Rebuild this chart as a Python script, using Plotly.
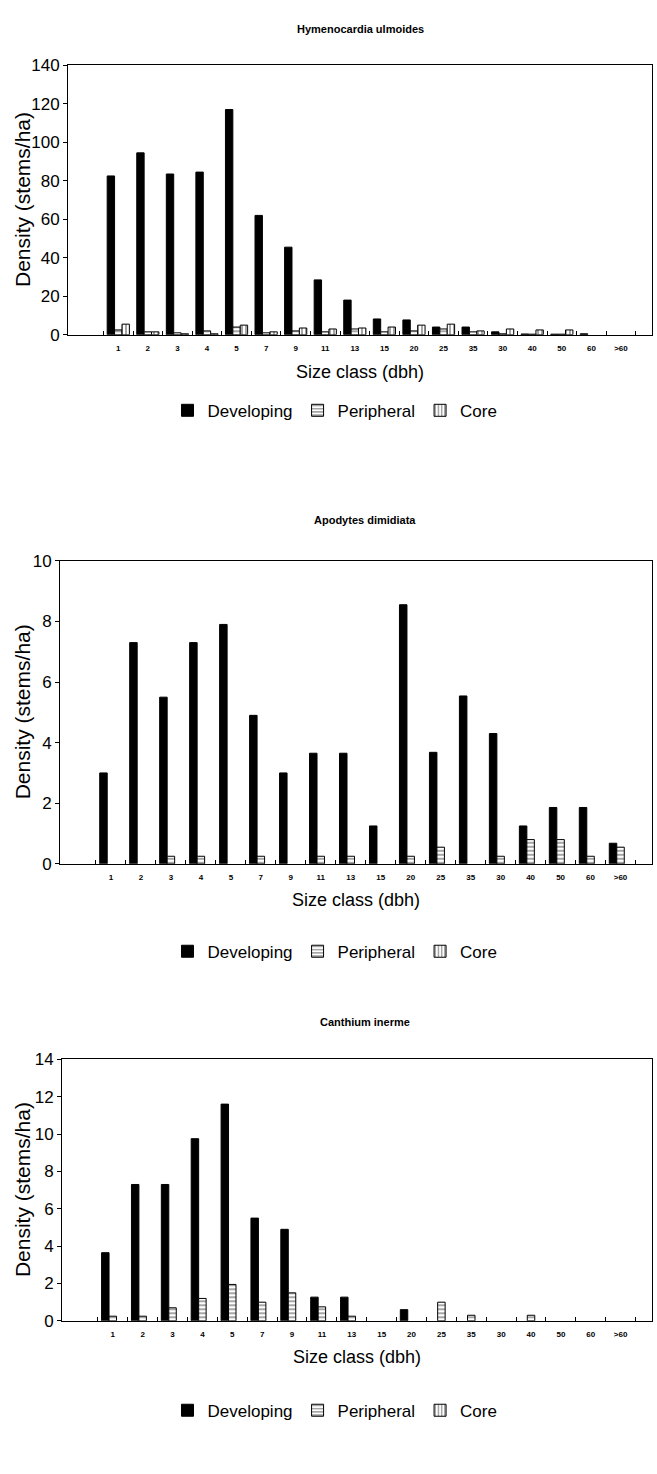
import plotly.graph_objects as go

categories = ["1", "2", "3", "4", "5", "7", "9", "11", "13", "15", "20", "25", "35", "30", "40", "50", "60", ">60"]

# Hymenocardia ulmoides
hym_developing = [82.5, 94.5, 83.5, 84.5, 117, 62, 45.5, 28.5, 18, 8.2, 7.7, 4, 4, 1.5, 0.4, 0.3, 0.5, 0]
hym_peripheral = [2.5, 1.5, 1, 2, 4, 1, 2, 1.5, 3, 1.5, 2, 3, 1.5, 0.5, 0.3, 0.3, 0, 0]
hym_core = [5.5, 1.5, 0.5, 0.5, 5, 1.5, 3.5, 3, 3.5, 4, 5, 5.5, 2, 3, 2.5, 2.5, 0, 0]

# Apodytes dimidiata
apo_developing = [3.0, 7.3, 5.5, 7.3, 7.9, 4.9, 3.0, 3.65, 3.65, 1.25, 8.55, 3.68, 5.54, 4.3, 1.25, 1.86, 1.86, 0.68]
apo_peripheral = [0, 0, 0.25, 0.25, 0, 0.25, 0, 0.25, 0.25, 0, 0.25, 0.55, 0, 0.25, 0.8, 0.8, 0.25, 0.55]
apo_core = [0] * 18

# Canthium inerme
can_developing = [3.65, 7.3, 7.3, 9.75, 11.6, 5.5, 4.9, 1.27, 1.27, 0, 0.6, 0, 0, 0, 0, 0, 0, 0]
can_peripheral = [0.25, 0.25, 0.7, 1.2, 1.95, 1.0, 1.5, 0.75, 0.25, 0, 0, 1.0, 0.3, 0, 0.3, 0, 0, 0]
can_core = [0] * 18

titles = ["Hymenocardia ulmoides", "Apodytes dimidiata", "Canthium inerme"]
y_max = [140, 10, 14]
y_dtick = [20, 2, 2]

H = 1474.0
W = 657.0
panels = [
    dict(top=57, bottom=330, left=68, title_y=20, title_x=360, xt_y=368, leg_y=407,
         dev=hym_developing, per=hym_peripheral, core=hym_core),
    dict(top=559, bottom=866, left=60, title_y=518, title_x=365, xt_y=903, leg_y=955,
         dev=apo_developing, per=apo_peripheral, core=apo_core),
    dict(top=1064, bottom=1329, left=62, title_y=1026, title_x=365, xt_y=1366, leg_y=1420,
         dev=can_developing, per=can_peripheral, core=can_core),
]

FONT = "Liberation Sans, Arial, sans-serif"


def nz(vals):
    # zero-height bars are not drawn in the original
    return [v if v > 0 else None for v in vals]


fig = go.Figure()
annotations = []
layout = {}

for i, p in enumerate(panels):
    n = "" if i == 0 else str(i + 1)
    xa, ya = "x" + n, "y" + n
    leg = "legend" + n
    fig.add_trace(go.Bar(y=nz(p["dev"]), name="Developing",
                         marker=dict(color="black", line=dict(color="black", width=1)),
                         x=categories, xaxis=xa, yaxis=ya, legend=leg))
    fig.add_trace(go.Bar(y=nz(p["per"]), name="Peripheral",
                         marker=dict(color="white", line=dict(color="black", width=1),
                                     pattern=dict(shape="-", fgcolor="black", bgcolor="white",
                                                  size=4, solidity=0.35)),
                         x=categories, xaxis=xa, yaxis=ya, legend=leg))
    fig.add_trace(go.Bar(y=nz(p["core"]), name="Core",
                         marker=dict(color="white", line=dict(color="black", width=1),
                                     pattern=dict(shape="|", fgcolor="black", bgcolor="white",
                                                  size=4, solidity=0.35)),
                         x=categories, xaxis=xa, yaxis=ya, legend=leg))

    layout["xaxis" + n] = dict(
        domain=[p["left"] / W, 652 / W], anchor=ya, type="category",
        range=[-1.7, 18.05], showline=True, mirror=True, linecolor="black", linewidth=1,
        ticks="inside", ticklen=4, tickcolor="black", tickson="boundaries",
        tickfont=dict(family=FONT, size=8, color="black", weight="bold"),
        ticklabelstandoff=6, showgrid=False, zeroline=False, fixedrange=True,
    )
    layout["yaxis" + n] = dict(
        domain=[1 - p["bottom"] / H, 1 - p["top"] / H], anchor=xa,
        range=[0, y_max[i]], dtick=y_dtick[i], showline=True, mirror=True,
        linecolor="black", linewidth=1, ticks="outside", ticklen=4, tickcolor="black",
        tickfont=dict(family=FONT, size=17, color="black"), showgrid=False, zeroline=False,
    )
    layout[leg] = dict(
        x=335 / W, y=1 - p["leg_y"] / H, xanchor="center", yanchor="middle",
        orientation="h", font=dict(family=FONT, size=17, color="black"),
        itemwidth=30, bgcolor="rgba(0,0,0,0)", traceorder="normal",
    )
    annotations.append(dict(text="<b>" + titles[i] + "</b>", x=p["title_x"] / W,
                            y=1 - p["title_y"] / H, xref="paper", yref="paper",
                            xanchor="center", yanchor="middle",
                            showarrow=False, font=dict(family=FONT, size=11, color="black")))
    annotations.append(dict(text="Size class (dbh)", x=(p["left"] + 652) / 2 / W,
                            y=1 - p["xt_y"] / H, xref="paper", yref="paper",
                            xanchor="center", yanchor="middle",
                            showarrow=False, font=dict(family=FONT, size=18, color="black")))
    annotations.append(dict(text="Density (stems/ha)", x=22 / W,
                            y=1 - (p["top"] + p["bottom"]) / 2 / H, xref="paper", yref="paper",
                            xanchor="center", yanchor="middle",
                            textangle=-90, showarrow=False,
                            font=dict(family=FONT, size=21, color="black")))

fig.update_layout(
    width=657, height=1474, margin=dict(l=0, r=0, t=0, b=0),
    paper_bgcolor="white", plot_bgcolor="white",
    barmode="group", bargap=0.25, bargroupgap=0,
    annotations=annotations, **layout,
)

fig.write_html("out.html")
